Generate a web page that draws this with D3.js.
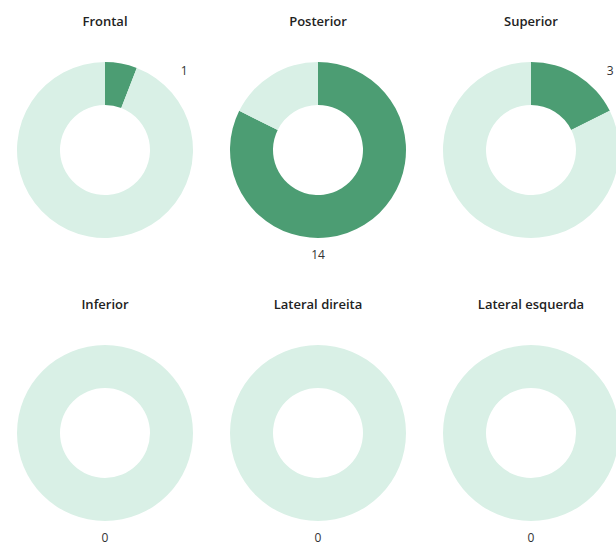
<!DOCTYPE html>
<html>
<head>
<meta charset="utf-8">
<script src="https://cdn.jsdelivr.net/npm/d3@7"></script>
<style>
  html, body { margin: 0; padding: 0; background: #ffffff; }
  svg { display: block; }
</style>
</head>
<body>
<div id="chart"></div>
<script>
// Impact location counts, one donut per side
const categories = ["Frontal", "Posterior", "Superior", "Inferior", "Lateral direita", "Lateral esquerda"];
const counts = [1, 14, 3, 0, 0, 0];
const total = 17;

const width = 616, height = 547;
const outerR = 88, innerR = 45;
const colors = { value: "#4c9d73", rest: "#d9f0e6" };
const font = "Open Sans, Liberation Sans, Arial, sans-serif";

const svg = d3.select("#chart").append("svg")
  .attr("width", width).attr("height", height);

// Grid placement: 3 columns x 2 rows
const colX = d3.scaleLinear().domain([0, 2]).range([105, 531]);
const rowY = d3.scaleLinear().domain([0, 1]).range([150, 433]);

const pie = d3.pie().sort(null).value(d => d.v);
const arc = d3.arc().innerRadius(innerR).outerRadius(outerR);

categories.forEach((name, i) => {
  const cx = colX(i % 3), cy = rowY(Math.floor(i / 3));
  const g = svg.append("g").attr("transform", `translate(${cx},${cy})`);
  const v = counts[i];
  const parts = [{ k: "value", v: v }, { k: "rest", v: total - v }];

  g.selectAll("path").data(pie(parts)).join("path")
    .attr("d", arc)
    .attr("fill", d => colors[d.data.k]);

  // Title above each ring
  g.append("text")
    .attr("x", 0).attr("y", -124)
    .attr("text-anchor", "middle")
    .attr("font-family", font)
    .attr("font-weight", 600)
    .attr("font-size", 13)
    .attr("fill", "#222")
    .text(name);

  // Value label: upper right for a small share, otherwise below the ring
  const small = v > 0 && v / total < 0.5;
  const ang = small ? Math.PI / 4 : Math.PI;
  const lr = small ? 112 : 104;
  g.append("text")
    .attr("x", lr * Math.sin(ang))
    .attr("y", -lr * Math.cos(ang))
    .attr("text-anchor", "middle")
    .attr("dominant-baseline", "central")
    .attr("font-family", font)
    .attr("font-size", 12)
    .attr("fill", "#333")
    .text(v);
});
</script>
</body>
</html>
